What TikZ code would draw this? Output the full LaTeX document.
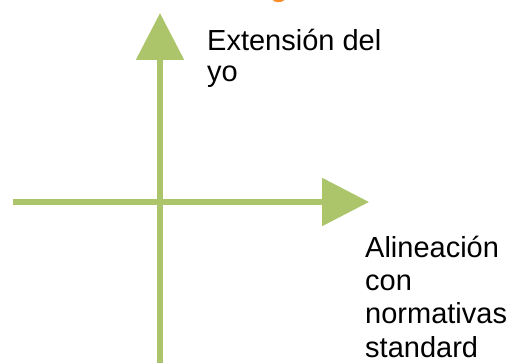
\documentclass[tikz,border=0pt]{standalone}
\usepackage{fontspec}
\setmainfont{Liberation Sans}
\usetikzlibrary{arrows.meta}
\definecolor{axisgreen}{RGB}{173,197,106}
\definecolor{titleorange}{RGB}{247,140,40}
\begin{document}
\begin{tikzpicture}[x=1pt,y=1pt,
  axis/.style={draw=axisgreen,line width=5.5pt,
    -{Triangle[length=47pt,width=47pt,fill=axisgreen]}},
  lbl/.style={anchor=base west,inner sep=0pt,align=left,
    font=\fontsize{29}{33}\selectfont}]
\useasboundingbox (0,0) rectangle (516,-363);
\coordinate (vb) at (160,-363);
\coordinate (vt) at (160,-13);
\coordinate (hl) at (13,-202);
\coordinate (hr) at (369,-202);
\draw[axis] (vb) -- (vt);
\draw[axis] (hl) -- (hr);
\node[lbl,font=\fontsize{29}{31}\selectfont] (ext) at (207,-82) {Extensión del\\yo};
\node[lbl,font=\fontsize{29}{33.3}\selectfont] (ali) at (365,-357) {Alineación\\con\\normativas\\standard};
\node[anchor=base,inner sep=0pt,text=titleorange,font=\fontsize{29}{33}\selectfont\bfseries] (ttl) at (279,3) {g};
\end{tikzpicture}
\end{document}
